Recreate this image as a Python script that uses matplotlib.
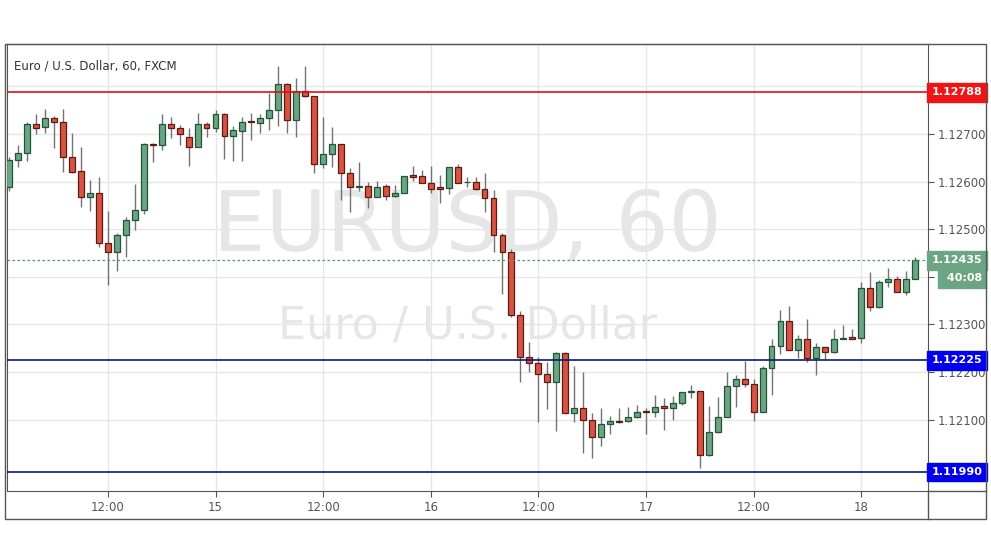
import matplotlib
matplotlib.use("Agg")
import matplotlib.pyplot as plt
from matplotlib.patches import Rectangle
from matplotlib.lines import Line2D
import matplotlib.transforms as mtrans

opens = [1.12588,1.12645,1.12659,1.12720,1.12714,1.12733,1.12726,1.12651,1.12622,1.12568,
         1.12577,1.12472,1.12452,1.12488,1.12519,1.12540,1.12679,1.12676,1.12721,1.12712,
         1.12693,1.12672,1.12721,1.12712,1.12742,1.12696,1.12707,1.12726,1.12724,1.12733,
         1.12751,1.12805,1.12730,1.12791,1.12780,1.12636,1.12657,1.12678,1.12617,1.12589,
         1.12590,1.12568,1.12590,1.12570,1.12577,1.12612,1.12612,1.12598,1.12587,1.12587,
         1.12630,1.12599,1.12600,1.12585,1.12565,1.12488,1.12452,1.12320,1.12232,1.12218,
         1.12195,1.12180,1.12239,1.12113,1.12124,1.12100,1.12064,1.12090,1.12096,1.12096,
         1.12106,1.12117,1.12116,1.12128,1.12124,1.12134,1.12158,1.12160,1.12026,1.12074,
         1.12105,1.12171,1.12185,1.12174,1.12116,1.12208,1.12254,1.12308,1.12246,1.12269,
         1.12229,1.12252,1.12241,1.12270,1.12272,1.12271,1.12377,1.12337,1.12390,1.12395,
         1.12367,1.12395]
highs = [1.12652,1.12677,1.12725,1.12743,1.12752,1.12737,1.12752,1.12702,1.12673,1.12603,
         1.12609,1.12538,1.12493,1.12526,1.12595,1.12681,1.12680,1.12742,1.12736,1.12719,
         1.12712,1.12745,1.12725,1.12750,1.12745,1.12717,1.12735,1.12745,1.12742,1.12787,
         1.12842,1.12807,1.12818,1.12842,1.12780,1.12735,1.12715,1.12678,1.12628,1.12642,
         1.12599,1.12602,1.12595,1.12593,1.12612,1.12632,1.12624,1.12632,1.12613,1.12631,
         1.12636,1.12609,1.12610,1.12619,1.12583,1.12491,1.12458,1.12329,1.12264,1.12232,
         1.12220,1.12243,1.12243,1.12213,1.12199,1.12113,1.12125,1.12108,1.12125,1.12127,
         1.12131,1.12124,1.12152,1.12145,1.12150,1.12158,1.12173,1.12160,1.12129,1.12147,
         1.12200,1.12194,1.12224,1.12185,1.12212,1.12270,1.12330,1.12339,1.12278,1.12311,
         1.12260,1.12252,1.12290,1.12299,1.12290,1.12388,1.12409,1.12393,1.12418,1.12402,
         1.12412,1.12441]
lows = [1.12581,1.12630,1.12644,1.12700,1.12702,1.12671,1.12621,1.12618,1.12547,1.12539,
        1.12463,1.12383,1.12413,1.12442,1.12498,1.12532,1.12642,1.12667,1.12691,1.12677,
        1.12632,1.12672,1.12694,1.12705,1.12648,1.12644,1.12644,1.12688,1.12702,1.12708,
        1.12717,1.12701,1.12693,1.12777,1.12617,1.12628,1.12630,1.12562,1.12537,1.12581,
        1.12544,1.12568,1.12562,1.12568,1.12576,1.12602,1.12598,1.12576,1.12555,1.12574,
        1.12598,1.12589,1.12582,1.12536,1.12452,1.12364,1.12316,1.12178,1.12199,1.12094,
        1.12122,1.12077,1.12113,1.12094,1.12030,1.12020,1.12045,1.12070,1.12092,1.12094,
        1.12103,1.12070,1.12106,1.12078,1.12100,1.12131,1.12145,1.11998,1.12024,1.12072,
        1.12105,1.12127,1.12169,1.12098,1.12116,1.12151,1.12238,1.12246,1.12229,1.12220,
        1.12193,1.12225,1.12239,1.12269,1.12269,1.12260,1.12329,1.12334,1.12378,1.12367,
        1.12362,1.12395]
closes = [1.12645,1.12659,1.12721,1.12713,1.12733,1.12726,1.12651,1.12621,1.12568,1.12577,
          1.12471,1.12452,1.12488,1.12519,1.12540,1.12679,1.12676,1.12721,1.12712,1.12699,
          1.12672,1.12721,1.12712,1.12742,1.12696,1.12708,1.12726,1.12725,1.12733,1.12751,
          1.12805,1.12730,1.12791,1.12780,1.12636,1.12657,1.12678,1.12617,1.12589,1.12590,
          1.12568,1.12589,1.12570,1.12577,1.12611,1.12611,1.12598,1.12585,1.12586,1.12630,
          1.12598,1.12599,1.12585,1.12565,1.12488,1.12452,1.12320,1.12232,1.12218,1.12195,
          1.12180,1.12239,1.12113,1.12124,1.12100,1.12064,1.12090,1.12096,1.12095,1.12106,
          1.12117,1.12116,1.12127,1.12124,1.12134,1.12158,1.12159,1.12026,1.12074,1.12106,
          1.12171,1.12185,1.12174,1.12116,1.12208,1.12254,1.12308,1.12246,1.12269,1.12229,
          1.12252,1.12241,1.12270,1.12272,1.12271,1.12377,1.12337,1.12390,1.12395,1.12367,
          1.12395,1.12435]

tick_pos = [11, 23, 35, 47, 59, 71, 83, 95]
tick_labels = ["12:00", "15", "12:00", "16", "12:00", "17", "12:00", "18"]
price_ticks = [1.121, 1.122, 1.123, 1.124, 1.125, 1.126, 1.127, 1.128]
price_labels = ["1.12100", "1.12200", "1.12300", "", "1.12500", "1.12600", "1.12700", ""]
level_red = 1.12788
levels_blue = [1.12225, 1.11990]
last_price = 1.12435
countdown = "40:08"

W, H = 991, 556
fig = plt.figure(figsize=(W/100, H/100), dpi=100)
ax = fig.add_axes([7/W, (H-491)/H, 921/W, 447/H])
ax.set_xlim(-0.25, 102.45)
ax.set_ylim(1.11950, 1.12889)

up_c, dn_c = "#6ba583", "#d75442"
up_e, dn_e = "#225437", "#5b1a13"
wick = "#737375"
for i, (o, h, l, c) in enumerate(zip(opens, highs, lows, closes)):
    ax.vlines(i, l, h, color=wick, lw=1, zorder=2)
    up = c >= o
    bot, top = min(o, c), max(o, c)
    if top - bot < 0.000012:
        bot -= 0.000008; top += 0.000008
    ax.add_patch(Rectangle((i-0.33, bot), 0.66, top-bot, facecolor=up_c if up else dn_c,
                           edgecolor=up_e if up else dn_e, lw=0.9, zorder=3))

ax.set_xticks(tick_pos)
ax.set_xticklabels(tick_labels)
ax.set_yticks(price_ticks)
ax.set_yticklabels(price_labels)
ax.yaxis.tick_right()
ax.tick_params(axis='both', colors="#555555", labelcolor="#555555", labelsize=8.5, length=4)
ax.tick_params(axis='y', pad=3)
ax.grid(True, color="#e6e6e6", lw=1)
ax.set_axisbelow(True)
for s in ax.spines.values():
    s.set_color("#555555")

ax.axhline(level_red, color="#e01010", lw=1.2, zorder=4)
for lv in levels_blue:
    ax.axhline(lv, color="#0a1a7a", lw=1.2, zorder=4)
ax.axhline(last_price, color="#4f9670", lw=0.9, ls=(0, (2, 2)), zorder=4)

tr = mtrans.blended_transform_factory(ax.transAxes, ax.transData)
def tag(y, txt, col, x=1.004):
    ax.text(x, y, txt, transform=tr, ha="left", va="center", fontsize=8, color="white",
            fontweight="bold", zorder=10, clip_on=False,
            bbox=dict(boxstyle="square,pad=0.4", fc=col, ec=col))
tag(level_red, f"{level_red:.5f}", "#f01414")
tag(levels_blue[0], f"{levels_blue[0]:.5f}", "#0000ee")
tag(levels_blue[1], f"{levels_blue[1]:.5f}", "#0000ee")
tag(last_price, f"{last_price:.5f}", "#6ba583")
tag(last_price - 0.00038, " " + countdown, "#6ba583", x=1.016)

ax.text(0.5, 0.59, "EURUSD, 60", transform=ax.transAxes, ha="center", va="center",
        fontsize=60, color="#e6e6e6", zorder=0)
ax.text(0.5, 0.37, "Euro / U.S. Dollar", transform=ax.transAxes, ha="center", va="center",
        fontsize=32, color="#e6e6e6", zorder=0)
ax.text(0.008, 0.965, "Euro / U.S. Dollar, 60, FXCM", transform=ax.transAxes, ha="left",
        va="top", fontsize=8.5, color="#333333", zorder=5)

fig.add_artist(Rectangle((5/W, (H-519)/H), 981/W, 475/H, transform=fig.transFigure,
                         fill=False, ec="#555555", lw=1))
fig.add_artist(Line2D([928/W, 928/W], [(H-519)/H, (H-491)/H], transform=fig.transFigure,
                      color="#555555", lw=1))
fig.add_artist(Line2D([928/W, 986/W], [(H-491)/H, (H-491)/H], transform=fig.transFigure,
                      color="#555555", lw=1))
fig.savefig("out.png", dpi=100)
